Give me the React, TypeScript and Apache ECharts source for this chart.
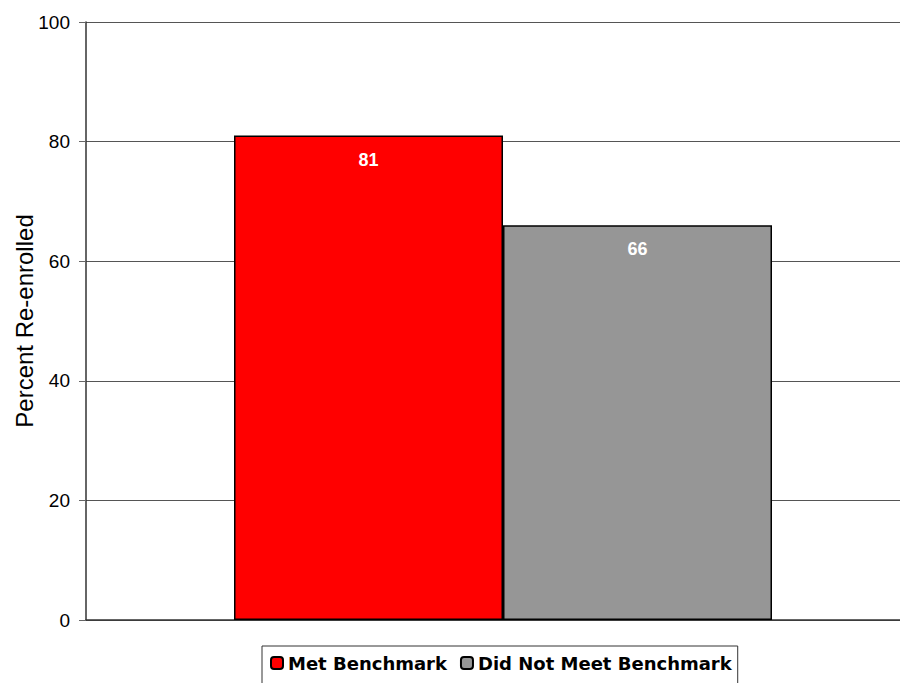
import React, { useEffect, useRef } from "react";
import * as echarts from "echarts";

const categories = ["All"];
const seriesNames = ["Met Benchmark", "Did Not Meet Benchmark"];
const metValues = [81];
const notMetValues = [66];
const colors = ["#ff0000", "#969696"];

export default function App() {
  const ref = useRef<HTMLDivElement>(null);
  useEffect(() => {
    const chart = echarts.init(ref.current!, null, { renderer: "svg" });
    const label = {
      show: true,
      position: "insideTop" as const,
      distance: 15,
      color: "#ffffff",
      fontWeight: "bold" as const,
      fontSize: 18,
      fontFamily: "Liberation Sans",
    };
    chart.setOption({
      animation: false,
      textStyle: { fontFamily: "Liberation Sans" },
      grid: { left: 78, top: 14, width: 834, height: 598, containLabel: false, outerBoundsMode: "none" },
      legend: {
        left: 254,
        top: 638,
        data: seriesNames,
        itemWidth: 12,
        itemHeight: 12,
        itemGap: 13,
        padding: [8, 6, 12, 8],
        borderColor: "#333",
        borderWidth: 1,
        textStyle: { fontSize: 18, fontWeight: "bold", color: "#000", fontFamily: "DejaVu Sans" },
      },
      xAxis: {
        type: "category",
        data: categories,
        axisLine: { show: true, lineStyle: { color: "#333", width: 1.5 } },
        axisTick: { show: false },
        axisLabel: { show: false },
      },
      yAxis: {
        type: "value",
        min: 0,
        max: 100,
        interval: 20,
        name: "Percent Re-enrolled",
        nameLocation: "middle",
        nameGap: 50,
        nameMoveOverlap: false,
        nameTextStyle: { fontSize: 24, color: "#000", fontFamily: "Liberation Sans" },
        axisLine: { show: true, lineStyle: { color: "#333", width: 1.5 } },
        axisTick: { show: true, length: 7, lineStyle: { color: "#666" } },
        axisLabel: { fontSize: 19, color: "#000", margin: 16, fontFamily: "Liberation Sans" },
        splitLine: { show: true, lineStyle: { color: "#555", width: 1 } },
      },
      series: [
        {
          name: seriesNames[0],
          type: "bar",
          data: metValues,
          barWidth: 269,
          barGap: "0%",
          itemStyle: { color: colors[0], borderColor: "#000", borderWidth: 1.5 },
          label,
        },
        {
          name: seriesNames[1],
          type: "bar",
          data: notMetValues,
          barWidth: 269,
          itemStyle: { color: colors[1], borderColor: "#000", borderWidth: 1.5 },
          label,
        },
      ],
    });
    return () => chart.dispose();
  }, []);
  return <div ref={ref} style={{ width: 900, height: 675 }} />;
}
